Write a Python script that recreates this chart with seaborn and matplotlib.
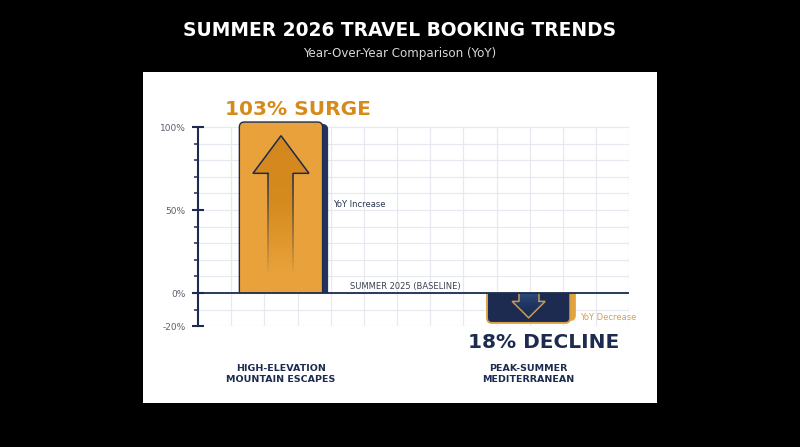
import numpy as np
import matplotlib
matplotlib.use("Agg")
import matplotlib.pyplot as plt
import seaborn as sns
from matplotlib.patches import FancyBboxPatch, Rectangle, Polygon
from matplotlib.colors import LinearSegmentedColormap

# data
categories = ["HIGH-ELEVATION\nMOUNTAIN ESCAPES", "PEAK-SUMMER\nMEDITERRANEAN"]
yoy_change = [103, -18]
headlines = ["103% SURGE", "18% DECLINE"]
side_notes = ["YoY Increase", "YoY Decrease"]
baseline_label = "SUMMER 2025 (BASELINE)"
ytick_values = [-20, 0, 50, 100]
ytick_labels = ["-20%", "0%", "50%", "100%"]

NAVY = "#1c2b4f"
ORANGE = "#e9a23b"
ORANGE_DARK = "#d4871d"
HEAD_ORANGE = "#d58b1e"
GRID = "#e6e9ef"

sns.set_theme(style="white")
plt.rcParams["font.family"] = ["DejaVu Sans"]

fig = plt.figure(figsize=(8, 4.47), dpi=100, facecolor="black")
# white card behind the chart
fig.add_artist(Rectangle((143 / 800, 44 / 447), 514 / 800, 331 / 447,
                         transform=fig.transFigure, facecolor="white",
                         edgecolor="none", zorder=0))
ax = fig.add_axes([0.2475, 0.2702, 0.539, 0.4828])
ax.set_facecolor("none")

xlim = (-0.335, 1.406)
ylim = (-20, 110)
bar_width = 0.336

sns.barplot(x=categories, y=yoy_change, hue=categories,
            palette=[ORANGE, NAVY], width=bar_width, saturation=1,
            legend=False, ax=ax, zorder=3)
ax.set_xlim(*xlim)
ax.set_ylim(*ylim)

# grid: 13 columns, rows every 10%
for gx in np.linspace(xlim[0], xlim[1], 14)[1:]:
    ax.plot([gx, gx], [-20, 100], color=GRID, lw=0.9, zorder=0)
for gy in range(-20, 101, 10):
    ax.plot(xlim, [gy, gy], color=GRID, lw=0.9, zorder=0)

# pixel aspect for rounded corners
p0 = ax.transData.transform((0, 0))
p1 = ax.transData.transform((1, 1))
px_x = p1[0] - p0[0]
px_y = abs(p1[1] - p0[1])
aspect = px_x / px_y
r = 5 / px_x
side_w = 5 / px_x

bars = [c.patches[0] for c in ax.containers]
for p, v in zip(bars, yoy_change):
    x0, w = p.get_x(), p.get_width()
    cx = x0 + w / 2
    p.set_visible(False)
    up = v > 0
    face = ORANGE if up else NAVY
    edge = NAVY if up else "#d9a04a"
    side = "#22345e" if up else "#e2a23e"
    ext = 8
    if up:
        y0, h = -ext, v + ext
        clip_y, clip_h = 0, v + 10
        sy0, sh = -ext, v - 1.5 + ext
    else:
        y0, h = v, -v + ext
        clip_y, clip_h = v - 10, -v + 10
        sy0, sh = v + 1.5, -v - 1.5 + ext
    sd = FancyBboxPatch((x0 + side_w, sy0), w, sh,
                        boxstyle=f"round,pad=0,rounding_size={r}",
                        mutation_aspect=aspect, fc=side, ec=side, lw=0.8, zorder=2.9)
    fb = FancyBboxPatch((x0, y0), w, h,
                        boxstyle=f"round,pad=0,rounding_size={r}",
                        mutation_aspect=aspect, fc=face, ec=edge,
                        lw=1.0 if up else 1.4, zorder=3)
    for art in (sd, fb):
        ax.add_patch(art)
        art.set_clip_path(Rectangle((x0 - 0.1, clip_y), w + 0.2, clip_h,
                                    transform=ax.transData))

    # arrow inside the bar
    if up:
        tip, base, tail = 0.92 * v, 0.70 * v, 0.12 * v
        hw, sw = 28 / px_x, 12.5 / px_x
        cmap = LinearSegmentedColormap.from_list("a", [ORANGE, HEAD_ORANGE, ORANGE_DARK])
        line_col = NAVY
    else:
        tip, base, tail = 0.83 * v, 0.28 * v, 0
        hw, sw = 16.5 / px_x, 10 / px_x
        cmap = LinearSegmentedColormap.from_list("b", ["#2f4a7a", "#1e3461", NAVY])
        line_col = "#c99a52"
    pts = [(cx - sw, tail), (cx - sw, base), (cx - hw, base), (cx, tip),
           (cx + hw, base), (cx + sw, base), (cx + sw, tail)]
    poly = Polygon(pts, closed=True, fc="none", ec="none", zorder=4)
    ax.add_patch(poly)
    grad = np.linspace(0, 1, 100).reshape(-1, 1)
    ylo, yhi = (tail, tip) if up else (tip, tail)
    im = ax.imshow(grad if up else grad[::-1], extent=(cx - hw, cx + hw, ylo, yhi),
                   origin="lower", aspect="auto", cmap=cmap, zorder=4)
    im.set_clip_path(poly)
    head = pts[1:6]
    ax.plot([q[0] for q in head], [q[1] for q in head], color=line_col,
            lw=1.1, zorder=5, solid_joinstyle="miter")
    if up:
        n = 20
        ys = np.linspace(base, tail, n + 1)
        for k in range(n):
            a = 1 - k / n
            for sx in (cx - sw, cx + sw):
                ax.plot([sx, sx], [ys[k], ys[k + 1]], color=line_col,
                        lw=1.1, alpha=a, zorder=5, solid_capstyle="butt")
    else:
        for sx in (cx - sw, cx + sw):
            ax.plot([sx, sx], [tail, base], color=line_col, lw=1.1, zorder=5)

ax.set_xlim(*xlim)
ax.set_ylim(*ylim)

# baseline
ax.plot(xlim, [0, 0], color=NAVY, lw=1.3, zorder=6)

# annotations
ax.text(0.069, 110.8, headlines[0], ha="center", va="center", fontsize=14.5,
        fontweight="bold", color="#d68a1c")
ax.text(1.06, -30, headlines[1], ha="center", va="center", fontsize=14.5,
        fontweight="bold", color=NAVY)
ax.text(0.21, 53.6, side_notes[0], ha="left", va="center", fontsize=6,
        color="#2a3550")
ax.text(1.208, -14.5, side_notes[1], ha="left", va="center", fontsize=6,
        color="#d9a050")
ax.text(0.279, 3.9, baseline_label, ha="left", va="center", fontsize=6,
        color="#3a4150")

# axes styling
for s in ("top", "right", "bottom"):
    ax.spines[s].set_visible(False)
ax.spines["left"].set_color(NAVY)
ax.spines["left"].set_linewidth(1.5)
ax.spines["left"].set_bounds(-20, 100)
ax.spines["left"].set_zorder(6)
ax.set_yticks(ytick_values)
ax.set_yticklabels(ytick_labels)
ax.set_yticks(range(-10, 100, 10), minor=True)
ax.tick_params(axis="y", which="major", direction="inout", length=8, width=1.5,
               color=NAVY, labelsize=6.5, labelcolor="#5a606c", pad=5, left=True)
ax.tick_params(axis="y", which="minor", direction="out", length=3, width=1.1,
               color=NAVY, left=True)
ax.tick_params(axis="x", length=0, pad=27, labelsize=6.8, labelcolor=NAVY)
for lbl in ax.get_xticklabels():
    lbl.set_fontweight("bold")
    lbl.set_linespacing(1.35)
    lbl.set_va("top")
ax.set_xlabel("")
ax.set_ylabel("")

fig.text(0.5, 1 - 30 / 447, "SUMMER 2026 TRAVEL BOOKING TRENDS", ha="center",
         va="center", fontsize=13.4, fontweight="bold", color="white")
fig.text(0.5, 1 - 53 / 447, "Year-Over-Year Comparison (YoY)", ha="center",
         va="center", fontsize=8.6, color="#d8d8d8")

fig.savefig("out.png", dpi=100, facecolor="black")
